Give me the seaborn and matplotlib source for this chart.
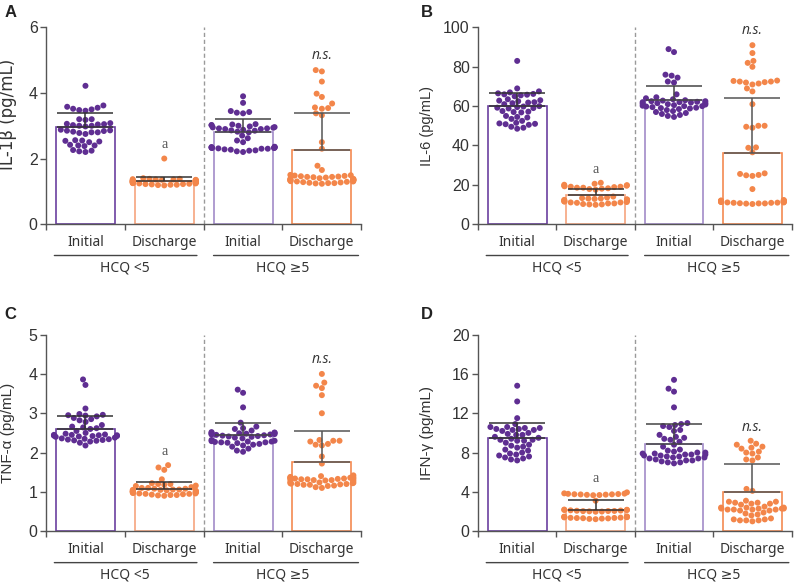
import numpy as np
import pandas as pd
import matplotlib
matplotlib.use("Agg")
import matplotlib.pyplot as plt
import seaborn as sns

# ---------------- data ----------------
groups = ["Initial <5", "Discharge <5", "Initial \u22655", "Discharge \u22655"]
tick_labels = ["Initial", "Discharge", "Initial", "Discharge"]
group_labels = ["HCQ <5", "HCQ \u22655"]

# Panel A: IL-1beta
A_init_lt5 = [4.22, 3.62, 3.58, 3.55, 3.52, 3.50, 3.48, 3.46, 3.20, 3.20, 3.18, 3.08, 3.06, 3.05, 3.04, 3.02, 3.00, 3.00, 2.98,
              2.88, 2.86, 2.85, 2.84, 2.82, 2.80, 2.80, 2.78, 2.75, 2.56, 2.55, 2.54, 2.52, 2.50, 2.42, 2.40, 2.40, 2.38,
              2.26, 2.24, 2.22, 2.20]
A_dis_lt5 = [2.00, 1.40, 1.38, 1.38, 1.37, 1.36, 1.36, 1.35, 1.35, 1.34, 1.34, 1.33, 1.33, 1.32, 1.32, 1.31, 1.31, 1.30,
             1.30, 1.30, 1.29, 1.29, 1.28, 1.28, 1.27, 1.27, 1.26, 1.26, 1.25, 1.25, 1.24, 1.24, 1.23, 1.22, 1.22, 1.21,
             1.20, 1.20, 1.19, 1.18]
A_init_ge5 = [3.90, 3.70, 3.45, 3.42, 3.40, 3.38, 3.05, 3.04, 3.02, 3.02, 3.00, 2.98, 2.96, 2.95, 2.94, 2.92, 2.92, 2.90,
              2.90, 2.88, 2.86, 2.85, 2.82, 2.80, 2.70, 2.62, 2.55, 2.50, 2.36, 2.35, 2.35, 2.34, 2.34, 2.33, 2.33, 2.32,
              2.32, 2.31, 2.30, 2.30, 2.28, 2.27, 2.25, 2.24, 2.22, 2.20]
A_dis_ge5 = [4.70, 4.66, 4.35, 3.98, 3.88, 3.68, 3.56, 3.54, 3.52, 3.38, 3.32, 2.50, 2.30, 1.78, 1.65, 1.50, 1.49, 1.48,
             1.47, 1.46, 1.45, 1.44, 1.44, 1.43, 1.42, 1.40, 1.38, 1.38, 1.36, 1.36, 1.35, 1.34, 1.34, 1.33, 1.32, 1.31,
             1.30, 1.30, 1.29, 1.28, 1.27, 1.26, 1.25, 1.25, 1.24, 1.23]
A_mean = [2.95, 1.30, 2.81, 2.25]
A_sdtop = [3.38, 1.44, 3.21, 3.38]

# Panel B: IL-6
B_init_lt5 = [83.0, 69.0, 67.5, 67.0, 66.5, 66.2, 66.0, 65.8, 65.5, 65.0, 63.5, 63.0, 62.8, 62.5, 62.0, 61.8, 61.5, 61.0,
              60.0, 59.8, 59.5, 59.2, 59.0, 58.8, 57.5, 57.2, 57.0, 56.8, 55.0, 54.5, 54.2, 53.5, 52.5, 51.5, 51.2, 51.0,
              50.8, 50.5, 49.5, 49.0, 48.5]
B_dis_lt5 = [21.0, 20.5, 20.0, 19.8, 19.5, 19.5, 19.2, 19.0, 19.0, 18.8, 18.5, 18.5, 18.2, 18.0, 17.8, 17.5, 14.0, 13.5,
             13.2, 13.0, 13.0, 12.8, 12.5, 12.5, 12.3, 12.0, 12.0, 11.8, 11.5, 11.5, 11.2, 11.0, 11.0, 10.8, 10.5, 10.5,
             10.2, 10.0, 10.0, 9.8]
B_init_ge5 = [89.0, 87.5, 76.0, 75.5, 74.5, 72.5, 72.0, 66.0, 64.5, 64.0, 63.5, 63.0, 62.8, 62.5, 62.5, 62.2, 62.0, 62.0,
              61.8, 61.5, 61.5, 61.2, 61.0, 60.8, 60.5, 60.2, 60.0, 60.0, 59.8, 59.5, 59.2, 59.0, 58.8, 58.5, 58.0, 57.5,
              57.0, 56.5, 56.0, 55.5, 55.0, 54.5]
B_dis_ge5 = [91.0, 87.0, 83.0, 82.0, 80.0, 73.0, 72.8, 72.5, 72.5, 72.2, 72.0, 71.5, 71.0, 69.0, 67.5, 61.0, 50.0, 50.0,
             49.5, 49.0, 39.0, 38.8, 36.5, 25.8, 25.5, 25.0, 24.8, 24.5, 17.8, 12.2, 12.0, 12.0, 11.8, 11.8, 11.6, 11.5,
             11.5, 11.4, 11.3, 11.2, 11.2, 11.0, 11.0, 10.9, 10.8, 10.8, 10.6, 10.5, 10.5, 10.4, 10.2]
B_mean = [60.0, 14.6, 63.0, 36.4]
B_sdtop = [66.9, 17.8, 70.3, 64.1]

# Panel C: TNF-alpha
C_init_lt5 = [3.86, 3.72, 3.12, 2.98, 2.96, 2.95, 2.94, 2.92, 2.88, 2.85, 2.82, 2.78, 2.70, 2.66, 2.64, 2.62, 2.60, 2.55,
              2.50, 2.48, 2.46, 2.45, 2.45, 2.44, 2.44, 2.43, 2.42, 2.42, 2.41, 2.40, 2.38, 2.36, 2.35, 2.34, 2.33, 2.32,
              2.31, 2.30, 2.28, 2.25, 2.18]
C_dis_lt5 = [1.68, 1.62, 1.56, 1.32, 1.22, 1.20, 1.20, 1.18, 1.16, 1.15, 1.12, 1.10, 1.10, 1.08, 1.08, 1.06, 1.06, 1.05,
             1.05, 1.04, 1.03, 1.02, 1.02, 1.01, 1.00, 1.00, 0.99, 0.98, 0.98, 0.97, 0.96, 0.96, 0.95, 0.95, 0.94, 0.93,
             0.92, 0.92, 0.91, 0.90]
C_init_ge5 = [3.60, 3.52, 3.15, 2.76, 2.66, 2.62, 2.60, 2.56, 2.52, 2.51, 2.50, 2.50, 2.49, 2.48, 2.48, 2.47, 2.46, 2.46,
              2.45, 2.44, 2.43, 2.42, 2.41, 2.40, 2.38, 2.36, 2.32, 2.30, 2.29, 2.28, 2.28, 2.27, 2.26, 2.26, 2.25, 2.24,
              2.22, 2.20, 2.18, 2.15, 2.10, 2.05, 2.02]
C_dis_ge5 = [4.00, 3.78, 3.70, 3.64, 3.46, 3.00, 2.32, 2.30, 2.30, 2.28, 2.22, 2.20, 2.18, 1.90, 1.72, 1.42, 1.40, 1.38,
             1.37, 1.36, 1.36, 1.35, 1.34, 1.34, 1.33, 1.33, 1.32, 1.32, 1.31, 1.30, 1.30, 1.29, 1.28, 1.25, 1.24, 1.23,
             1.22, 1.22, 1.21, 1.20, 1.20, 1.19, 1.18, 1.18, 1.16, 1.15, 1.12, 1.10]
C_mean = [2.59, 1.08, 2.45, 1.75]
C_sdtop = [2.93, 1.26, 2.76, 2.55]

# Panel D: IFN-gamma
D_init_lt5 = [14.8, 13.2, 11.5, 10.9, 10.6, 10.6, 10.5, 10.5, 10.4, 10.4, 10.3, 10.3, 10.2, 10.0, 9.9, 9.8, 9.8, 9.6, 9.5,
              9.4, 9.3, 9.3, 9.2, 9.2, 9.0, 8.8, 8.7, 8.6, 8.5, 8.3, 8.2, 8.0, 7.9, 7.8, 7.7, 7.6, 7.5, 7.4, 7.3, 7.2]
D_dis_lt5 = [3.95, 3.85, 3.82, 3.80, 3.78, 3.76, 3.75, 3.74, 3.72, 3.70, 3.68, 3.66, 3.10, 2.20, 2.18, 2.16, 2.15, 2.12,
             2.10, 2.08, 2.06, 2.05, 2.04, 2.02, 2.00, 1.98, 1.50, 1.48, 1.46, 1.45, 1.42, 1.40, 1.38, 1.36, 1.35, 1.34,
             1.32, 1.30, 1.28, 1.25, 1.22]
D_init_ge5 = [15.4, 14.5, 14.2, 12.6, 11.0, 10.9, 10.8, 10.7, 10.6, 10.3, 10.2, 9.8, 9.6, 9.5, 9.4, 9.3, 9.1, 8.8, 8.6,
              8.3, 8.2, 8.1, 8.0, 8.0, 7.9, 7.9, 7.8, 7.8, 7.8, 7.7, 7.7, 7.6, 7.6, 7.5, 7.5, 7.4, 7.4, 7.3, 7.2, 7.2,
              7.1, 7.0, 7.0, 6.9]
D_dis_ge5 = [9.2, 8.9, 8.8, 8.6, 8.5, 8.4, 8.1, 8.0, 7.9, 7.5, 7.3, 7.2, 4.3, 4.1, 3.1, 3.0, 3.0, 2.9, 2.9, 2.8, 2.8, 2.7,
             2.5, 2.4, 2.4, 2.4, 2.3, 2.3, 2.3, 2.3, 2.2, 2.2, 2.2, 2.2, 2.1, 2.1, 1.9, 1.8, 1.7, 1.6, 1.3, 1.2, 1.2,
             1.1, 1.1, 1.1, 1.0]
D_mean = [9.44, 2.17, 8.90, 4.03]
D_sdtop = [10.96, 3.15, 10.86, 6.80]

panels = [
    dict(letter="A", ylabel="IL-1\u03b2 (pg/mL)", ylim=6, yticks=[0, 2, 4, 6], lab_fs=12,
         lab_family=["DejaVu Sans"], lab_xy=(-0.092, 0.56),
         pts=[A_init_lt5, A_dis_lt5, A_init_ge5, A_dis_ge5], mean=A_mean, sdtop=A_sdtop, a_y=2.44, ns_y=5.16),
    dict(letter="B", ylabel="IL-6 (pg/mL)", ylim=100, yticks=[0, 20, 40, 60, 80, 100], lab_fs=10.5,
         lab_family=["Liberation Sans", "DejaVu Sans"], lab_xy=(-0.14, 0.5),
         pts=[B_init_lt5, B_dis_lt5, B_init_ge5, B_dis_ge5], mean=B_mean, sdtop=B_sdtop, a_y=27.8, ns_y=98.6),
    dict(letter="C", ylabel="TNF-\u03b1 (pg/mL)", ylim=5, yticks=[0, 1, 2, 3, 4, 5], lab_fs=11,
         lab_family=["Liberation Sans", "DejaVu Sans"], lab_xy=(-0.1, 0.5),
         pts=[C_init_lt5, C_dis_lt5, C_init_ge5, C_dis_ge5], mean=C_mean, sdtop=C_sdtop, a_y=2.03, ns_y=4.37),
    dict(letter="D", ylabel="IFN-\u03b3 (pg/mL)", ylim=20, yticks=[0, 4, 8, 12, 16, 20], lab_fs=11,
         lab_family=["Liberation Sans", "DejaVu Sans"], lab_xy=(-0.14, 0.5),
         pts=[D_init_lt5, D_dis_lt5, D_init_ge5, D_dis_ge5], mean=D_mean, sdtop=D_sdtop, a_y=5.4, ns_y=10.6),
]

# ---------------- style ----------------
sns.set_style("ticks")
plt.rcParams["font.family"] = ["Liberation Sans", "DejaVu Sans"]

point_colors = {groups[0]: "#5F2E92", groups[1]: "#F3864A", groups[2]: "#5F2E92", groups[3]: "#F3864A"}
edge_colors = ["#6B3FA0", "#F6A47E", "#A28BC8", "#F38A52"]
text_col = "#333333"
spine_col = "#555555"

fig = plt.figure(figsize=(7.94, 5.85), dpi=100)
positions = [
    [0.058, 0.617, 0.397, 0.336],
    [0.602, 0.617, 0.395, 0.336],
    [0.058, 0.092, 0.397, 0.336],
    [0.602, 0.092, 0.395, 0.336],
]
letter_pos = [(0.013, 0.978), (0.537, 0.978), (0.013, 0.463), (0.537, 0.463)]

for p, pos, lp in zip(panels, positions, letter_pos):
    ax = fig.add_axes(pos)
    # bars
    bar_df = pd.DataFrame({"group": groups, "mean": p["mean"]})
    sns.barplot(data=bar_df, x="group", y="mean", order=groups, color="white",
                width=0.75, ax=ax, errorbar=None, zorder=1)
    for patch, ec in zip(ax.patches, edge_colors):
        patch.set_facecolor("white")
        patch.set_edgecolor(ec)
        patch.set_linewidth(1.2)
    # points
    long = pd.DataFrame({
        "group": np.concatenate([[g] * len(v) for g, v in zip(groups, p["pts"])]),
        "value": np.concatenate([np.asarray(v, float) for v in p["pts"]]),
    })
    sns.swarmplot(data=long, x="group", y="value", order=groups, hue="group",
                  palette=point_colors, size=4.3, linewidth=0, ax=ax, legend=False,
                  zorder=2, warn_thresh=1.0)
    # SD error bars (upper only)
    means = np.asarray(p["mean"])
    up = np.asarray(p["sdtop"]) - means
    err_cols = ["#333333", "#333333", "#444444", "#555555"]
    for i in range(4):
        ax.errorbar(i, means[i], yerr=[[0], [up[i]]], fmt="none", ecolor=err_cols[i],
                    elinewidth=1.1, capsize=20, capthick=1.1, zorder=3)
    # dashed separator
    ax.axvline(1.5, color="#9a9a9a", linestyle=(0, (3, 2)), linewidth=1.0, zorder=0, clip_on=False)
    # annotations
    ax.text(1, p["a_y"], "a", ha="center", va="center", fontsize=10, color="#555555",
            family=["Liberation Serif", "DejaVu Serif"])
    ax.text(3, p["ns_y"], "n.s.", ha="center", va="center", fontsize=10, color="#333333",
            style="italic", family=["Open Sans", "DejaVu Sans"])

    ax.set_xlim(-0.5, 3.5)
    ax.set_ylim(0, p["ylim"])
    ax.set_yticks(p["yticks"])
    ax.set_xticks(range(4))
    ax.set_xticklabels(tick_labels, fontsize=10, color=text_col, family=["Noto Sans", "DejaVu Sans"])
    ax.set_xticks([-0.5, 0.5, 1.5, 2.5, 3.5], minor=True)
    ax.tick_params(axis="x", which="major", length=0, pad=8)
    ax.tick_params(axis="x", which="minor", length=4, width=1.0, color=spine_col)
    ax.tick_params(axis="y", length=4, width=1.0, color=spine_col, labelsize=11.5, labelcolor=text_col, pad=2)
    ax.set_xlabel("")
    ax.set_ylabel(p["ylabel"], fontsize=p["lab_fs"], color=text_col, family=p["lab_family"])
    ax.yaxis.set_label_coords(*p["lab_xy"])
    for s in ["top", "right"]:
        ax.spines[s].set_visible(False)
    for s in ["left", "bottom"]:
        ax.spines[s].set_color(spine_col)
        ax.spines[s].set_linewidth(1.0)

    # group lines and labels
    for (x0, x1), lab, xc in zip([(-0.43, 1.45), (1.59, 3.5)], group_labels, [0.5, 2.5]):
        ax.annotate("", xy=(x0, -0.16), xytext=(x1, -0.16), xycoords=("data", "axes fraction"),
                    arrowprops=dict(arrowstyle="-", color="#444444", linewidth=1.0))
        ax.text(xc, -0.225, lab, transform=ax.get_xaxis_transform(), ha="center", va="center",
                fontsize=10, color=text_col, family=["Noto Sans", "DejaVu Sans"])

    fig.text(lp[0], lp[1], p["letter"], fontsize=12, fontweight="bold", ha="center", va="center",
             color="#222222")

fig.savefig("out.png", dpi=100)
